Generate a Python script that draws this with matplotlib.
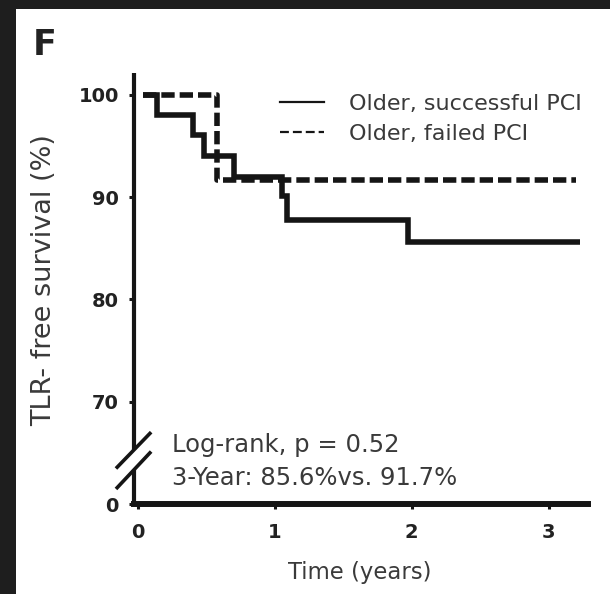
"""
Kaplan-Meier style TLR-free survival panel (F), older patients,
successful vs failed PCI. Broken y axis: the "0" tick sits under 70.
"""

import matplotlib
matplotlib.use("Agg")
import matplotlib.pyplot as plt
from matplotlib.lines import Line2D
from matplotlib.patches import Rectangle

# ---------------- data ----------------

succ_time = [0.04, 0.14, 0.40, 0.48, 0.70, 1.05, 1.09, 1.97, 3.23]
succ_surv = [100.0, 98.0, 96.1, 94.0, 92.0, 90.1, 87.8, 85.6, 85.6]

fail_time = [0.04, 0.58, 3.20]
fail_surv = [100.0, 91.7, 91.7]

x_ticks = [0, 1, 2, 3]
y_ticks = [60, 70, 80, 90, 100]          # 60 is drawn as "0" below the break
y_tick_labels = ["0", "70", "80", "90", "100"]

legend_labels = ["Older, successful PCI", "Older, failed PCI"]
stats_lines = ["Log-rank, p = 0.52", "3-Year: 85.6%vs. 91.7%"]

# ---------------- style ----------------

INK = "#151515"
TEXT = "#3a3a3a"
W, H, DPI = 610, 594, 100

plt.rcParams["font.family"] = ["DejaVu Sans"]

fig = plt.figure(figsize=(W / DPI, H / DPI), dpi=DPI, facecolor="#1e1e1e")
# white page inside the dark frame (left and top edges)
fig.add_artist(Rectangle((16 / W, 0), 1 - 16 / W, 1 - 9 / H, transform=fig.transFigure,
                         facecolor="white", edgecolor="none", zorder=-10))

ax = fig.add_axes([134 / W, 90 / H, 454 / W, 431 / H])
ax.set_facecolor("none")
ax.set_xlim(-0.028, 3.288)
ax.set_ylim(60, 102.15)

# curves
ax.step(succ_time, succ_surv, where="post", color=INK, lw=4.0, solid_capstyle="butt",
        solid_joinstyle="miter")
ax.step(fail_time, fail_surv, where="post", color=INK, lw=4.0, linestyle=(0, (2.4, 0.9)),
        dash_capstyle="butt")

# spines: bottom thick, left drawn by hand with a break
for s in ["top", "right", "left"]:
    ax.spines[s].set_visible(False)
ax.spines["bottom"].set_linewidth(4.3)
ax.spines["bottom"].set_color(INK)

ytr = ax.get_yaxis_transform()
ax.plot([0, 0], [65.3, 102.15], transform=ytr, color=INK, lw=3.0, clip_on=False,
        solid_capstyle="butt")
ax.plot([0, 0], [60, 63.3], transform=ytr, color=INK, lw=3.0, clip_on=False,
        solid_capstyle="butt")
# break marks
ax.plot([-0.037, 0.035], [63.6, 66.9], transform=ytr, color=INK, lw=2.6, clip_on=False)
ax.plot([-0.037, 0.035], [61.6, 65.0], transform=ytr, color=INK, lw=2.6, clip_on=False)

# ticks
ax.set_xticks(x_ticks, [str(t) for t in x_ticks], fontweight="bold", fontsize=14, color="#222")
ax.set_yticks(y_ticks, y_tick_labels, fontweight="bold", fontsize=14, color="#222")
ax.tick_params(axis="both", direction="out", length=3.8, width=2.2, pad=7, color=INK)
ax.tick_params(axis="x", pad=10)

# labels
ax.set_xlabel("Time (years)", fontsize=16.4, color=TEXT)
ax.xaxis.set_label_coords(0.498, -0.133)
ax.set_ylabel("TLR- free survival (%)", fontsize=19.5, color=TEXT)
ax.yaxis.set_label_coords(-0.17, 0.52)

# stats text
ax.text(0.25, 65.1, stats_lines[0], fontsize=17.5, color=TEXT, va="baseline")
ax.text(0.25, 61.9, stats_lines[1], fontsize=17.5, color=TEXT, va="baseline")

# legend
handles = [Line2D([], [], color=INK, lw=1.6),
           Line2D([], [], color=INK, lw=1.6, linestyle=(0, (4, 1.8)))]
leg = ax.legend(handles, legend_labels, loc="upper left", bbox_to_anchor=(0.3216, 0.951),
                frameon=False, fontsize=16, handlelength=2.0, handletextpad=1.1,
                labelspacing=0.43, borderpad=0, borderaxespad=0)
for t in leg.get_texts():
    t.set_color(TEXT)

# panel letter
fig.text(33 / W, 1 - 28 / H, "F", fontsize=25, fontweight="bold", color="#222",
         ha="left", va="top")

fig.savefig("out.png", dpi=DPI, facecolor=fig.get_facecolor())
